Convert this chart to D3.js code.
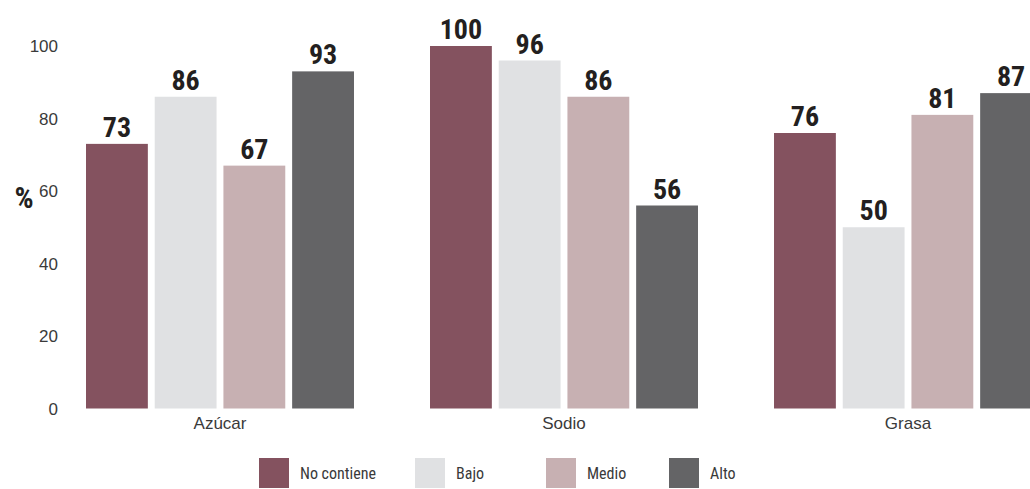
<!DOCTYPE html>
<html>
<head>
<meta charset="utf-8">
<script src="https://cdn.jsdelivr.net/npm/d3@7"></script>
<style>
  body { margin: 0; background: #fff; }
  svg { display: block; font-family: "Liberation Sans Narrow", "Roboto Condensed", "Liberation Sans", sans-serif; }
</style>
</head>
<body>
<div id="chart"></div>
<script>
// Data
const categories = ["Azúcar", "Sodio", "Grasa"];
const seriesNames = ["No contiene", "Bajo", "Medio", "Alto"];
const noContiene = [73, 100, 76];
const bajo = [86, 96, 50];
const medio = [67, 86, 81];
const alto = [93, 56, 87];
const yTicks = [0, 20, 40, 60, 80, 100];

const colors = ["#84525f", "#e0e1e3", "#c7b0b2", "#646466"];

const values = [noContiene, bajo, medio, alto];
const data = categories.map((c, i) => ({
    category: c,
    bars: seriesNames.map((s, j) => ({ series: s, value: values[j][i] }))
}));

const width = 1030, height = 489;

const svg = d3.select("#chart")
    .append("svg")
    .attr("width", width)
    .attr("height", height);

// Scales (last group runs past the right edge, like the reference)
const x0 = d3.scaleBand()
    .domain(categories)
    .range([86, 1042])
    .paddingInner(0.221)
    .paddingOuter(0);

const x1 = d3.scaleBand()
    .domain(seriesNames)
    .range([0, x0.bandwidth()])
    .paddingInner(0.1);

const y = d3.scaleLinear()
    .domain([0, 100])
    .range([408.5, 46]);

// Y axis (labels only)
const yAxis = d3.axisLeft(y).tickValues(yTicks).tickSize(0).tickPadding(0);
const yAxisGroup = svg.append("g")
    .attr("transform", "translate(58,0)")
    .call(yAxis);
yAxisGroup.select(".domain").remove();
yAxisGroup.selectAll("text")
    .style("font-family", "inherit")
    .style("font-size", "17px")
    .attr("fill", "#3a3a3a")
    .attr("dy", "0.35em");

svg.append("text")
    .attr("x", 24)
    .attr("y", 197)
    .attr("dy", "0.35em")
    .attr("text-anchor", "middle")
    .style("font-size", "30px")
    .style("font-weight", "bold")
    .attr("fill", "#231f20")
    .text("%");

// Bars
const groups = svg.selectAll(".grp")
    .data(data)
    .enter()
    .append("g")
    .attr("class", "grp")
    .attr("transform", d => `translate(${x0(d.category)},0)`);

groups.selectAll("rect")
    .data(d => d.bars)
    .enter()
    .append("rect")
    .attr("x", d => x1(d.series))
    .attr("y", d => y(d.value))
    .attr("width", x1.bandwidth())
    .attr("height", d => y(0) - y(d.value))
    .attr("fill", (d, i) => colors[i]);

groups.selectAll(".val")
    .data(d => d.bars)
    .enter()
    .append("text")
    .attr("class", "val")
    .attr("x", d => x1(d.series) + x1.bandwidth() / 2)
    .attr("y", d => y(d.value) - 7)
    .attr("text-anchor", "middle")
    .style("font-size", "28px")
    .style("font-weight", "bold")
    .attr("fill", "#231f20")
    .text(d => d.value);

// X axis labels
const xAxis = d3.axisBottom(x0).tickSize(0).tickPadding(0);
const xAxisGroup = svg.append("g")
    .attr("transform", "translate(0,423)")
    .call(xAxis);
xAxisGroup.select(".domain").remove();
xAxisGroup.selectAll("text")
    .style("font-family", "inherit")
    .style("font-size", "17px")
    .attr("fill", "#3a3a3a")
    .attr("dy", "0.35em");

// Legend
const legendX = [259, 415, 546, 669];
const legend = svg.selectAll(".legend")
    .data(seriesNames)
    .enter()
    .append("g")
    .attr("class", "legend")
    .attr("transform", (d, i) => `translate(${legendX[i]},458)`);

legend.append("rect")
    .attr("width", 30)
    .attr("height", 30)
    .attr("fill", (d, i) => colors[i]);

legend.append("text")
    .attr("x", 41)
    .attr("y", 15)
    .attr("dy", "0.35em")
    .style("font-size", "16px")
    .attr("fill", "#3a3a3a")
    .text(d => d);
</script>
</body>
</html>
